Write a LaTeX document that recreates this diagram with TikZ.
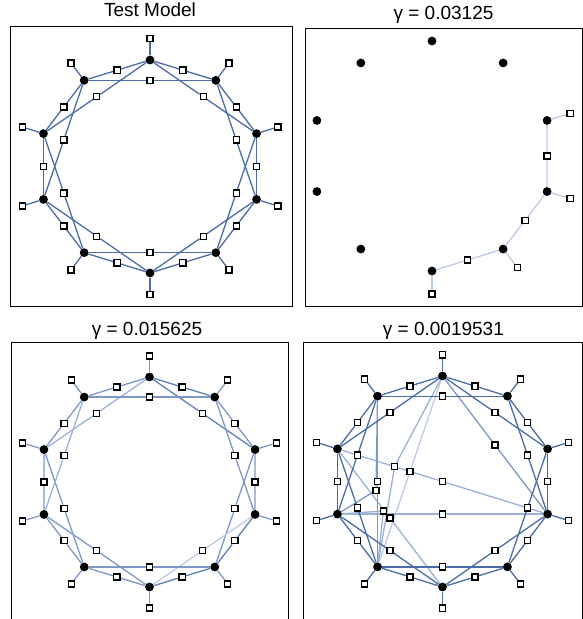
\documentclass[tikz,border=0pt]{standalone}
\usepackage{fontspec}
\setmainfont{Liberation Sans}
\usetikzlibrary{calc,backgrounds}

% edge shades, strongest to faintest
\definecolor{cA}{RGB}{74,108,168}
\definecolor{cB}{RGB}{96,128,185}
\definecolor{cC}{RGB}{125,152,200}
\definecolor{cD}{RGB}{155,177,215}
\definecolor{cE}{RGB}{188,204,230}

\tikzset{
  var/.style={circle,fill=black,inner sep=0pt,minimum size=8.8pt},
  fac/.style={rectangle,draw=black,fill=white,line width=1.25pt,inner sep=0pt,minimum size=6.1pt},
  frame/.style={draw=black,line width=0.9pt},
  ttl/.style={font=\fontsize{19}{21}\selectfont,anchor=base,inner sep=0pt},
  lk/.style={line width=1.3pt},
}

% ten variables on an ellipse, index 0 at the top, going clockwise
\newcommand\ringvars[5]{%
  \foreach \i in {0,...,9}{%
    \pgfmathsetmacro\ang{90-36*\i}%
    \node[var] (#1v\i) at ({#2+#4*cos(\ang)},{#3-#5*sin(\ang)}) {};
  }}
% unary factors just outside the variables
\newcommand\ringunary[6]{%
  \foreach \i in {#6}{%
    \pgfmathsetmacro\ang{90-36*\i}%
    \node[fac] (#1u\i) at ({#2+1.2*#4*cos(\ang)},{#3-1.2*#5*sin(\ang)}) {};
  }}
% pairwise factors between neighbours (r) and second neighbours (s)
\newcommand\ringnear[2]{%
  \foreach \i in {#2}{%
    \pgfmathtruncatemacro\j{mod(\i+1,10)}%
    \node[fac] (#1r\i) at ($(#1v\i)!0.5!(#1v\j)$) {};
  }}
\newcommand\ringskip[2]{%
  \foreach \i in {#2}{%
    \pgfmathtruncatemacro\j{mod(\i+2,10)}%
    \node[fac] (#1s\i) at ($(#1v\i)!0.5!(#1v\j)$) {};
  }}

\begin{document}
\begin{tikzpicture}[x=1pt,y=-1pt]
\useasboundingbox (0,0) rectangle (583,619);

% ---------- frames and titles ----------
\draw[frame] (10,26) rectangle (292,306);
\draw[frame] (305,28) rectangle (582,306);
\draw[frame] (11,625) -- (11,342.3) -- (288.3,342.3) -- (288.3,625);
\draw[frame] (303.3,625) -- (303.3,342.3) -- (582,342.3) -- (582,625);

\node[ttl] (t1) at (150,16.7) {Test Model};
\node[ttl] (t2) at (443.5,19.3) {γ = 0.03125};
\node[ttl] (t3) at (147,335) {γ = 0.015625};
\node[ttl] (t4) at (443.4,335) {γ = 0.0019531};

% ---------- panel A: test model ----------
\ringvars{A}{150}{166.5}{112}{106.5}
\ringunary{A}{150}{166.5}{112}{106.5}{0,...,9}
\ringnear{A}{0,...,9}
\ringskip{A}{0,...,9}
\begin{scope}[on background layer]
  \foreach \i in {0,...,9}{
    \pgfmathtruncatemacro\j{mod(\i+1,10)}
    \pgfmathtruncatemacro\k{mod(\i+2,10)}
    \draw[lk,draw=cA] (Av\i) -- (Au\i);
    \draw[lk,draw=cA] (Av\i) -- (Ar\i) -- (Av\j);
    \draw[lk,draw=cA] (Av\i) -- (As\i) -- (Av\k);
  }
\end{scope}

% ---------- panel B: gamma = 0.03125 ----------
\ringvars{B}{432}{156}{121}{115}
\ringunary{B}{432}{156}{121}{115}{2,3,4,5}
\ringnear{B}{2,3,4}
\begin{scope}[on background layer]
  \foreach \i in {2,3,4,5}{
    \draw[lk,draw=cE] (Bv\i) -- (Bu\i);
  }
  \foreach \i in {2,3,4}{
    \pgfmathtruncatemacro\j{mod(\i+1,10)}
    \draw[lk,draw=cE] (Bv\i) -- (Br\i) -- (Bv\j);
  }
\end{scope}

% ---------- panel C: gamma = 0.015625 ----------
\ringvars{C}{149.5}{482}{111}{105}
\ringunary{C}{149.5}{482}{111}{105}{0,...,9}
\ringnear{C}{0,...,9}
\ringskip{C}{0,...,9}
\begin{scope}[on background layer]
  \foreach \i/\cr/\cs in {0/cB/cB, 1/cC/cC, 2/cC/cC, 3/cB/cE, 4/cB/cC,
                          5/cC/cC, 6/cC/cC, 7/cC/cD, 8/cC/cD, 9/cC/cC}{
    \pgfmathtruncatemacro\j{mod(\i+1,10)}
    \pgfmathtruncatemacro\k{mod(\i+2,10)}
    \draw[lk,draw=cC] (Cv\i) -- (Cu\i);
    \draw[lk,draw=\cs] (Cv\i) -- (Cs\i) -- (Cv\k);
    \draw[lk,draw=\cr] (Cv\i) -- (Cr\i) -- (Cv\j);
  }
\end{scope}

% ---------- panel D: gamma = 0.0019531 ----------
\ringvars{D}{442.5}{481.5}{110.5}{105.5}
\ringunary{D}{442.5}{481.5}{110.5}{105.5}{0,...,9}
\ringnear{D}{0,...,9}
\ringskip{D}{0,...,9}
% longer-range factors
\node[fac] (Dx1) at ($(Dv0)!0.5!(Dv3)$) {};
\node[fac] (Dx2) at ($(Dv8)!0.5!(Dv3)$) {};
\node[fac] (Dx3) at ($(Dv7)!0.5!(Dv3)$) {};
\node[fac] (Dx4) at ($(Dv9)!0.5!(Dv6)$) {};
\node[fac] (Dx5) at ($(Dv0)!0.5!(Dv6)$) {};
\node[fac] (Dx6) at (394.7,466.3) {};
\node[fac] (Dx7) at (376,490.3) {};
\node[fac] (Dx8) at (383.3,511) {};
\node[fac] (Dx9) at ($(Dv8)!0.5!(Dv5)$) {};
\begin{scope}[on background layer]
  \draw[lk,draw=cE] (Dv0) -- (Dx5) -- (Dv6);
  \draw[lk,draw=cD] (Dv0) -- (Dx6) -- (Dv6);
  \draw[lk,draw=cD] (Dv7) -- (Dx8) -- (Dv6);
  \draw[lk,draw=cD] (Dv8) -- (Dx9) -- (Dv5);
  \draw[lk,draw=cD] (Dv7) -- (Dx3) -- (Dv3);
  \draw[lk,draw=cD] (Dv8) -- (Dx2) -- (Dv3);
  \draw[lk,draw=cC] (Dv0) -- (Dx1) -- (Dv3);
  \draw[lk,draw=cC] (Dv9) -- (Dx4) -- (Dv6);
  \draw[lk,draw=cC] (Dv7) -- (Dx7) -- (Dv9);
  \foreach \i in {0,...,9}{
    \pgfmathtruncatemacro\j{mod(\i+1,10)}
    \pgfmathtruncatemacro\k{mod(\i+2,10)}
    \draw[lk,draw=cA] (Dv\i) -- (Du\i);
    \draw[lk,draw=cA] (Dv\i) -- (Dr\i) -- (Dv\j);
    \draw[lk,draw=cA] (Dv\i) -- (Ds\i) -- (Dv\k);
  }
\end{scope}
\end{tikzpicture}
\end{document}
